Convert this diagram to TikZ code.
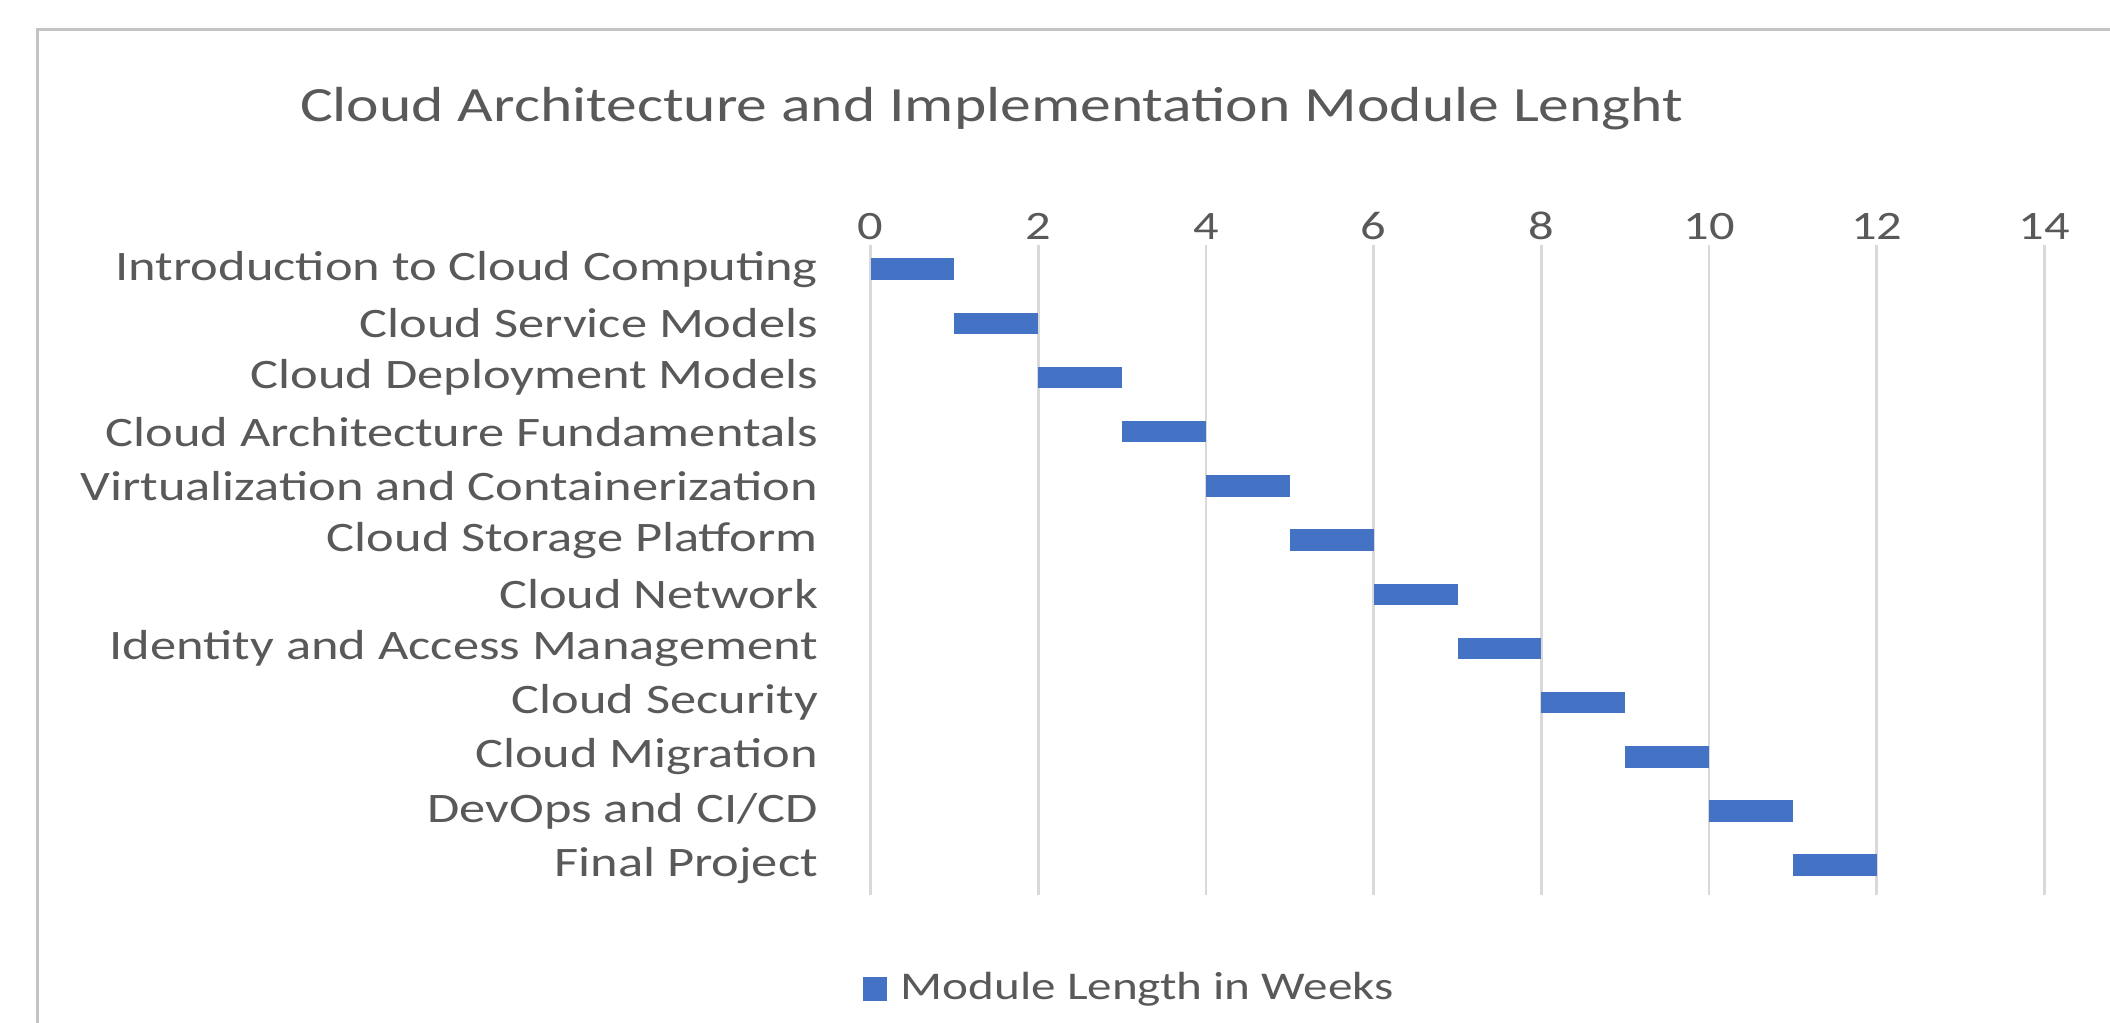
\documentclass[tikz,border=0pt]{standalone}
\usepackage{fontspec}
\setmainfont{Carlito}[FakeStretch=1.25]
\usetikzlibrary{positioning}

\definecolor{barblue}{HTML}{4472C4}
\definecolor{inkgray}{HTML}{595959}
\definecolor{gridgray}{HTML}{D9D9D9}

\begin{document}
\begin{tikzpicture}[
    x=1pt, y=-1pt,
    charttitle/.style = {text=inkgray, font=\fontsize{36.6}{40}\selectfont, inner sep=0pt},
    ticklabel/.style  = {text=inkgray, font=\fontsize{30}{34}\selectfont, inner sep=0pt},
    modlabel/.style   = {text=inkgray, font=\fontsize{31.2}{34}\selectfont, inner sep=0pt, anchor=east},
    legendlabel/.style = {text=inkgray, font=\fontsize{29.2}{33}\selectfont, inner sep=0pt},
    gridline/.style   = {draw=gridgray, line width=2pt},
    weekbar/.style    = {fill=barblue, draw=none},
    legendkey/.style  = {fill=barblue, draw=none, minimum size=18pt, inner sep=0pt}
]
    \useasboundingbox (0,0) rectangle (1568,760);
    \fill[white] (0,0) rectangle (1568,760);

    % chart frame, cut by the page on the right and at the bottom
    \draw[draw=gridgray!90!black, line width=2pt] (28,800) -- (28,22) -- (1600,22);

    \node[charttitle] (title) at (737,81) {Cloud Architecture and Implementation Module Lenght};

    % axis and gridlines
    \foreach \v in {0,2,...,14} {
        \node[ticklabel] (tick\v) at (647+62.3*\v,168) {\v};
        \draw[gridline] (647+62.3*\v,182) -- (647+62.3*\v,665);
    }

    % modules, one per week
    \foreach \name [count=\i from 0] in {
        Introduction to Cloud Computing,
        Cloud Service Models,
        Cloud Deployment Models,
        Cloud Architecture Fundamentals,
        Virtualization and Containerization,
        Cloud Storage Platform,
        Cloud Network,
        Identity and Access Management,
        Cloud Security,
        Cloud Migration,
        DevOps and CI/CD,
        Final Project} {
        \node[modlabel] (mod\i) at (608,200+40.27*\i) {\name};
        \fill[weekbar] (647+62.3*\i,192+40.27*\i) rectangle (647+62.3*\i+62.3,208+40.27*\i);
    }

    % legend
    \node[legendkey] (key) at (650,735) {};
    \node[legendlabel, right=10pt of key] (keytext) {Module Length in Weeks};

\end{tikzpicture}
\end{document}
